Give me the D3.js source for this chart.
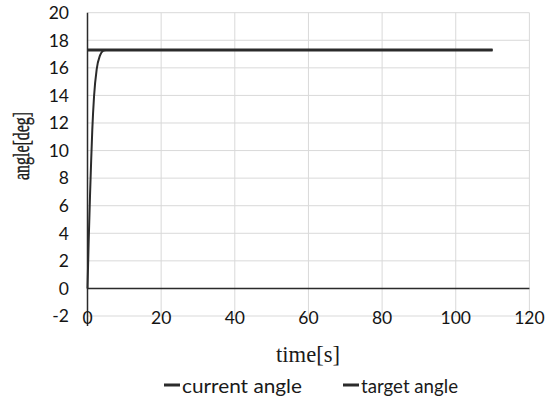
<!DOCTYPE html>
<html>
<head>
<meta charset="utf-8">
<script src="https://cdn.jsdelivr.net/npm/d3@7"></script>
<style>
  html, body { margin: 0; padding: 0; background: #fff; }
  svg { display: block; }
</style>
</head>
<body>
<svg id="chart" width="555" height="401"></svg>
<script>
// ---- data ----
const timeCurrent = [0, 0.3, 0.68, 1.0, 1.3, 1.77, 2.5, 3.4, 4.3, 5, 10, 20, 40, 60, 80, 100, 110];
const currentAngle = [0, 3.2, 6.7, 9.3, 11.5, 13.9, 15.9, 16.9, 17.25, 17.3, 17.3, 17.3, 17.3, 17.3, 17.3, 17.3, 17.3];
const timeTarget = [0, 110];
const targetAngle = [17.3, 17.3];
const xTicks = [0, 20, 40, 60, 80, 100, 120];
const yTicks = [-2, 0, 2, 4, 6, 8, 10, 12, 14, 16, 18, 20];
const seriesNames = ["current angle", "target angle"];
const xTitle = "time[s]";
const yTitle = "angle[deg]";

const svg = d3.select("#chart");
const x = d3.scaleLinear().domain([0, 120]).range([87.5, 529.4]);
const y = d3.scaleLinear().domain([-2, 20]).range([316, 12.7]);

const grid = "#d9d9d9";
const dark = "#2b2b2b";

// horizontal gridlines
svg.append("g").selectAll("line").data(yTicks).join("line")
  .attr("x1", x(0)).attr("x2", x(120))
  .attr("y1", d => y(d)).attr("y2", d => y(d))
  .attr("stroke", grid).attr("stroke-width", 1);
// vertical gridlines
svg.append("g").selectAll("line").data(xTicks.filter(d => d > 0)).join("line")
  .attr("x1", d => x(d)).attr("x2", d => x(d))
  .attr("y1", y(20)).attr("y2", y(-2))
  .attr("stroke", grid).attr("stroke-width", 1);

// axis lines
svg.append("line").attr("x1", x(0)).attr("x2", x(120)).attr("y1", y(0)).attr("y2", y(0))
  .attr("stroke", dark).attr("stroke-width", 1.5);
svg.append("line").attr("x1", x(0)).attr("x2", x(0)).attr("y1", y(20)).attr("y2", y(-2) + 10)
  .attr("stroke", dark).attr("stroke-width", 1.5);

// tick labels
svg.append("g").selectAll("text").data(yTicks).join("text")
  .attr("x", 69).attr("y", d => y(d)).attr("dy", "0.36em")
  .attr("text-anchor", "end")
  .attr("font-family", "Lato, 'Open Sans', sans-serif").attr("font-size", 17.5)
  .attr("fill", "#141414")
  .text(d => d);
svg.append("g").selectAll("text").data(xTicks).join("text")
  .attr("x", d => x(d)).attr("y", 324)
  .attr("text-anchor", "middle")
  .attr("font-family", "Lato, 'Open Sans', sans-serif").attr("font-size", 17.5)
  .attr("fill", "#141414")
  .text(d => d);

// series
const line = d3.line().x(d => x(d[0])).y(d => y(d[1]));
svg.append("path")
  .datum(timeTarget.map((t, i) => [t, targetAngle[i]]))
  .attr("d", line).attr("fill", "none").attr("stroke", dark).attr("stroke-width", 3);
svg.append("path")
  .datum(timeCurrent.map((t, i) => [t, currentAngle[i]]))
  .attr("d", d3.line().x(d => x(d[0])).y(d => y(d[1])).curve(d3.curveMonotoneX))
  .attr("fill", "none").attr("stroke", dark).attr("stroke-width", 2);

// axis titles
svg.append("text")
  .attr("x", 308).attr("y", 362)
  .attr("text-anchor", "middle")
  .attr("font-family", "'Liberation Serif', 'Times New Roman', serif").attr("font-size", 23)
  .attr("fill", "#1a1a1a")
  .attr("textLength", 64).attr("lengthAdjust", "spacingAndGlyphs")
  .text(xTitle);
svg.append("text")
  .attr("transform", "translate(29,146) rotate(-90)")
  .attr("text-anchor", "middle")
  .attr("font-family", "'Liberation Serif', 'Times New Roman', serif").attr("font-size", 24)
  .attr("fill", "#1a1a1a").attr("stroke", "#1a1a1a").attr("stroke-width", 0.5)
  .attr("textLength", 68).attr("lengthAdjust", "spacingAndGlyphs")
  .text(yTitle);

// legend
const legendX = [164, 343];
const legendTextLen = [120, 97];
const lg = svg.append("g").selectAll("g").data(seriesNames).join("g");
lg.append("line")
  .attr("x1", (d, i) => legendX[i]).attr("x2", (d, i) => legendX[i] + 16)
  .attr("y1", 385).attr("y2", 385)
  .attr("stroke", dark).attr("stroke-width", 3);
lg.append("text")
  .attr("x", (d, i) => legendX[i] + 18).attr("y", 393)
  .attr("font-family", "Lato, 'Open Sans', sans-serif").attr("font-size", 19.5)
  .attr("fill", "#1a1a1a")
  .attr("textLength", (d, i) => legendTextLen[i]).attr("lengthAdjust", "spacingAndGlyphs")
  .text(d => d);
</script>
</body>
</html>
